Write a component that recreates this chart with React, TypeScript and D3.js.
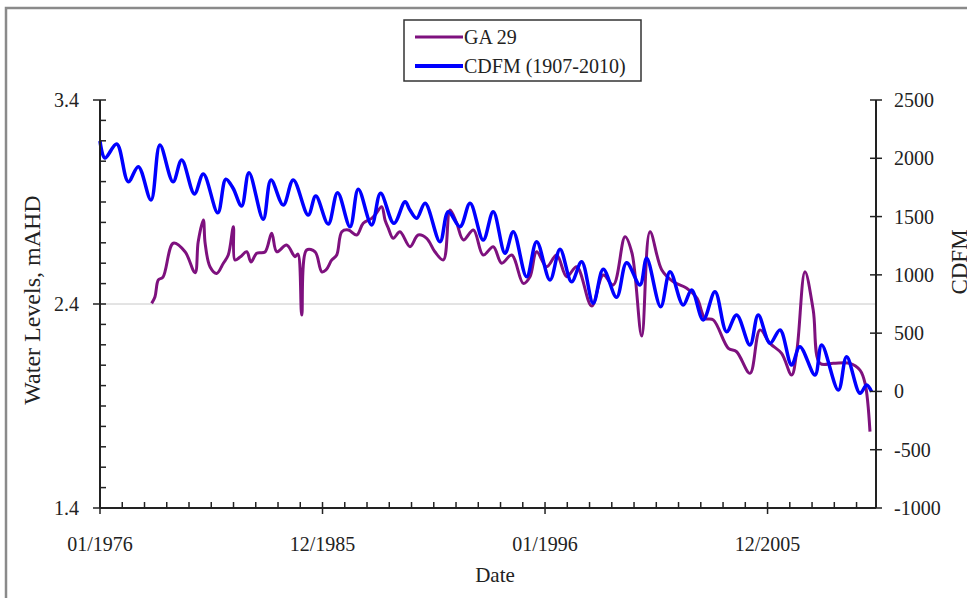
import React, { useRef, useEffect } from "react";
import * as d3 from "d3";

// chart data (decimal year, value)
const legendLabels = ["GA 29", "CDFM (1907-2010)"];
const xTickLabels = ["01/1976", "12/1985", "01/1996", "12/2005"];
const leftTickLabels = [1.4, 2.4, 3.4];
const rightTickLabels = [-1000, -500, 0, 500, 1000, 1500, 2000, 2500];

// GA 29 water levels, mAHD (left axis)
const ga29: [number, number][] = [
  [1978.32, 2.403], [1978.47, 2.436], [1978.62, 2.518], [1978.83, 2.532],
  [1979.29, 2.698], [1979.82, 2.656], [1980.27, 2.553], [1980.41, 2.705],
  [1980.64, 2.812], [1980.72, 2.699], [1980.94, 2.583], [1981.24, 2.55],
  [1981.54, 2.6], [1981.76, 2.64], [1981.99, 2.779], [1982.06, 2.616],
  [1982.29, 2.63], [1982.59, 2.656], [1982.78, 2.606], [1983.04, 2.649],
  [1983.41, 2.655], [1983.71, 2.747], [1983.94, 2.656], [1984.38, 2.689],
  [1984.76, 2.632], [1984.89, 2.645], [1985.06, 2.346], [1985.28, 2.665],
  [1985.66, 2.656], [1985.96, 2.558], [1986.15, 2.567], [1986.41, 2.616],
  [1986.63, 2.64], [1986.86, 2.754], [1987.15, 2.763], [1987.53, 2.738],
  [1987.82, 2.796], [1988.2, 2.82], [1988.35, 2.836], [1988.65, 2.877],
  [1988.8, 2.812], [1988.95, 2.771], [1989.17, 2.722], [1989.47, 2.754],
  [1989.92, 2.681], [1990.29, 2.738], [1990.67, 2.722], [1991.04, 2.656],
  [1991.42, 2.616], [1991.72, 2.861], [1992.02, 2.796], [1992.32, 2.714],
  [1992.77, 2.763], [1993.21, 2.64], [1993.66, 2.681], [1994.04, 2.6],
  [1994.49, 2.64], [1995.01, 2.501], [1995.31, 2.534], [1995.61, 2.656],
  [1996.06, 2.583], [1996.51, 2.64], [1996.96, 2.534], [1997.41, 2.583],
  [1998.08, 2.39], [1998.6, 2.542], [1999.05, 2.493], [1999.58, 2.73],
  [1999.89, 2.65], [2000.33, 2.243], [2000.7, 2.754], [2001.23, 2.567],
  [2001.75, 2.509], [2002.35, 2.477], [2002.81, 2.429], [2003.17, 2.33],
  [2003.54, 2.322], [2004.22, 2.183], [2004.59, 2.166], [2005.19, 2.06],
  [2005.64, 2.273], [2006.09, 2.207], [2006.61, 2.158], [2007.06, 2.052],
  [2007.3, 2.175], [2007.66, 2.558], [2008.03, 2.371], [2008.34, 2.109],
  [2008.93, 2.109], [2009.68, 2.109], [2010.13, 2.076], [2010.36, 2.011],
  [2010.58, 1.774],
];

// CDFM (right axis)
const cdfm: [number, number][] = [
  [1976.0, 2148], [1976.22, 2002], [1976.75, 2123], [1977.27, 1799],
  [1977.72, 1928], [1978.29, 1642], [1978.69, 2114], [1979.28, 1799],
  [1979.67, 1985], [1980.24, 1694], [1980.64, 1865], [1981.29, 1533],
  [1981.65, 1820], [1981.97, 1745], [1982.36, 1591], [1982.69, 1876],
  [1983.33, 1477], [1983.68, 1814], [1984.23, 1599], [1984.68, 1814],
  [1985.35, 1513], [1985.69, 1676], [1986.25, 1436], [1986.67, 1705],
  [1987.23, 1413], [1987.6, 1734], [1988.2, 1428], [1988.6, 1700],
  [1989.2, 1442], [1989.7, 1628], [1989.92, 1556], [1990.22, 1485],
  [1990.6, 1614], [1991.27, 1284], [1991.64, 1542], [1992.17, 1413],
  [1992.62, 1614], [1993.21, 1299], [1993.66, 1542], [1994.19, 1185],
  [1994.56, 1370], [1995.16, 984], [1995.61, 1284], [1996.21, 956],
  [1996.66, 1219], [1997.18, 941], [1997.63, 1113], [1998.15, 756],
  [1998.6, 1048], [1999.2, 808], [1999.65, 1104], [2000.25, 913],
  [2000.55, 1142], [2001.18, 727], [2001.6, 1027], [2002.19, 741],
  [2002.57, 870], [2003.09, 613], [2003.62, 855], [2004.14, 512],
  [2004.59, 656], [2005.19, 398], [2005.56, 656], [2006.09, 413],
  [2006.54, 527], [2007.06, 227], [2007.43, 384], [2008.11, 141],
  [2008.41, 398], [2009.16, 12], [2009.53, 298], [2010.13, -16],
  [2010.43, 55], [2010.65, -2],
];

const W = 967;
const H = 598;
const font = "'Liberation Serif', 'Times New Roman', serif";

function App() {
  const svgRef = useRef<SVGSVGElement>(null);

  useEffect(() => {
    const svg = d3.select(svgRef.current);
    svg.selectAll("*").remove();

    const left = 100, right = 876, top = 100, bottom = 508;
    const x = d3.scaleLinear().domain([1976.0, 2010.85]).range([left, right]);
    const yL = d3.scaleLinear().domain([1.4, 3.4]).range([bottom, top]);
    const yR = d3.scaleLinear().domain([-1000, 2500]).range([bottom, top]);

    // outer chart frame
    svg.append("rect")
      .attr("x", 6).attr("y", 8).attr("width", 1000).attr("height", 1000)
      .attr("fill", "white").attr("stroke", "#8a8a8a").attr("stroke-width", 2.5);

    // gridline at 2.4
    svg.append("line")
      .attr("x1", left).attr("x2", right)
      .attr("y1", yL(2.4)).attr("y2", yL(2.4))
      .attr("stroke", "#c8c8c8").attr("stroke-width", 1);

    // series
    const gaLine = d3.line<[number, number]>()
      .x((d) => x(d[0])).y((d) => yL(d[1]))
      .curve(d3.curveCatmullRom.alpha(0.5));
    const cdLine = d3.line<[number, number]>()
      .x((d) => x(d[0])).y((d) => yR(d[1]))
      .curve(d3.curveCatmullRom.alpha(0.5));

    svg.append("path").datum(ga29).attr("d", gaLine)
      .attr("fill", "none").attr("stroke", "#7e117e").attr("stroke-width", 3)
      .attr("stroke-linejoin", "round");
    svg.append("path").datum(cdfm).attr("d", cdLine)
      .attr("fill", "none").attr("stroke", "#0000ff").attr("stroke-width", 3.5)
      .attr("stroke-linejoin", "round");

    const axisColor = "#222";
    const g = svg.append("g").attr("stroke", axisColor).attr("stroke-width", 1.5);

    // left axis
    g.append("line").attr("x1", left).attr("x2", left).attr("y1", top).attr("y2", bottom).attr("stroke-width", 2);
    d3.range(14, 35).forEach((i) => {
      const v = i / 10;
      const major = i % 10 === 4;
      g.append("line")
        .attr("x1", major ? left - 7 : left).attr("x2", left + 6)
        .attr("y1", yL(v)).attr("y2", yL(v));
    });

    // right axis
    g.append("line").attr("x1", right).attr("x2", right).attr("y1", top).attr("y2", bottom).attr("stroke-width", 2);
    rightTickLabels.forEach((v) => {
      g.append("line")
        .attr("x1", right - 6).attr("x2", right + 6)
        .attr("y1", yR(v)).attr("y2", yR(v));
    });

    // bottom axis
    g.append("line").attr("x1", left).attr("x2", right).attr("y1", bottom).attr("y2", bottom).attr("stroke-width", 2);
    const majorStep = 3650 / 365.25;
    const minorStep = 365 / 365.25;
    d3.range(0, 35).forEach((i) => {
      const t = 1976 + i * minorStep;
      if (t > 2010.85) return;
      const major = i % 10 === 0;
      g.append("line")
        .attr("x1", x(t)).attr("x2", x(t))
        .attr("y1", bottom - 6).attr("y2", major ? bottom + 6 : bottom);
    });

    const txt = svg.append("g").attr("font-family", font).attr("fill", "#222");

    leftTickLabels.forEach((v) => {
      txt.append("text").attr("x", 79).attr("y", yL(v)).attr("dy", "0.35em")
        .attr("text-anchor", "end").attr("font-size", 20).text(v.toFixed(1));
    });
    rightTickLabels.forEach((v) => {
      txt.append("text").attr("x", 894).attr("y", yR(v)).attr("dy", "0.35em")
        .attr("text-anchor", "start").attr("font-size", 20).text(String(v));
    });
    xTickLabels.forEach((label, i) => {
      txt.append("text").attr("x", x(1976 + i * majorStep)).attr("y", 551)
        .attr("text-anchor", "middle").attr("font-size", 20).text(label);
    });

    // axis titles
    txt.append("text").attr("x", 495).attr("y", 582)
      .attr("text-anchor", "middle").attr("font-size", 21).text("Date");
    txt.append("text")
      .attr("transform", `translate(40,${(top + bottom) / 2 - 4}) rotate(-90)`)
      .attr("text-anchor", "middle").attr("font-size", 24).text("Water Levels, mAHD");
    txt.append("text")
      .attr("transform", "translate(967,262) rotate(-90)")
      .attr("text-anchor", "middle").attr("font-size", 23).text("CDFM");

    // legend
    const lg = svg.append("g");
    lg.append("rect").attr("x", 404).attr("y", 20).attr("width", 237).attr("height", 61)
      .attr("fill", "white").attr("stroke", "#333").attr("stroke-width", 1.5);
    const colors = ["#7e117e", "#0000ff"];
    legendLabels.forEach((label, i) => {
      const ly = 37 + i * 29;
      lg.append("line").attr("x1", 415).attr("x2", 463).attr("y1", ly).attr("y2", ly)
        .attr("stroke", colors[i]).attr("stroke-width", i === 0 ? 3 : 4);
      lg.append("text").attr("x", 464).attr("y", ly).attr("dy", "0.35em")
        .attr("font-family", font).attr("font-size", 20).attr("fill", "#222").text(label);
    });
  }, []);

  return (
    <div style={{ position: "absolute", left: 0, top: 0 }}>
      <svg ref={svgRef} width={W} height={H} style={{ display: "block", background: "white" }}></svg>
    </div>
  );
}

export default App;
